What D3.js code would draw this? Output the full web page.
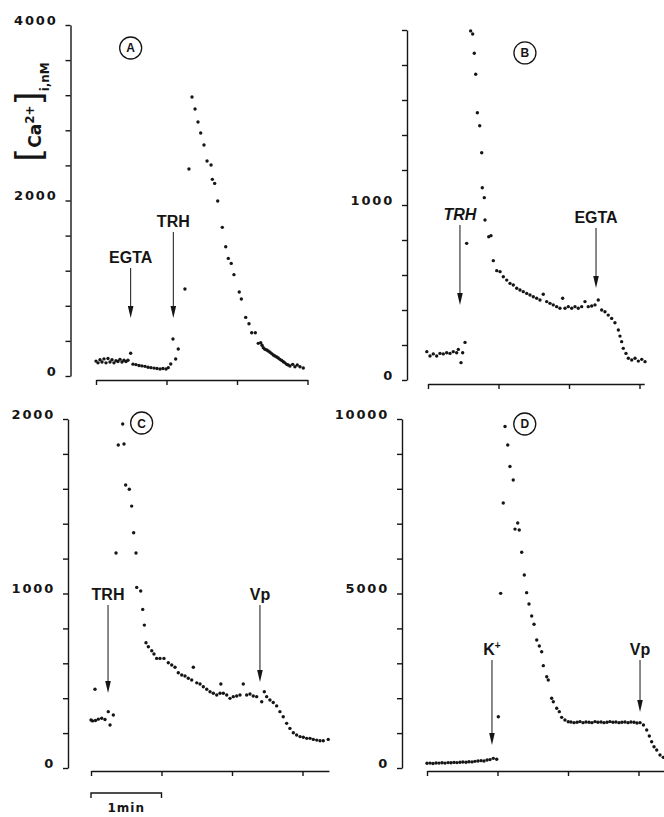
<!DOCTYPE html>
<html>
<head>
<meta charset="utf-8">
<script src="https://cdn.jsdelivr.net/npm/d3@7"></script>
<style>
  body{ margin:0; background:#fff; }
  .axis path, .axis line{ stroke:#151515; stroke-width:1.4; }
  .yaxis text{ font-family:"DejaVu Sans",sans-serif; font-weight:bold; font-size:13px; letter-spacing:1.8px; fill:#151515; }
  .note{ font-family:"Liberation Sans",Arial,sans-serif; font-weight:bold; font-size:16px; fill:#151515; }
  .letter{ font-family:"Liberation Sans",Arial,sans-serif; font-weight:bold; font-size:12px; fill:#151515; }
</style>
</head>
<body>
<script>
// time in s from the first x tick, [Ca2+]i in nM
var dataA = [[0,170],[1.7,150],[3.4,185],[5.1,160],[6.8,195],[8.5,150],[10.2,200],[11.9,160],[13.6,185],[15.3,150],
  [17,175],[18.7,165],[20.4,190],[22.1,160],[23.8,180],[25.5,165],[27.2,180],[29.5,259],[31.5,135],[34,130],
  [36.6,120],[39.1,115],[41.7,110],[44.3,100],[46.8,95],[49.4,90],[51.9,85],[54.5,80],[57,85],[59.6,80],
  [61.5,95],[63.6,137],[65.5,422],[67.8,194],[70,308],[75.7,991],[79.1,2359],[81.7,3179],[84.3,3043],[86.8,2895],
  [89.1,2769],[91.9,2632],[94.5,2450],[97.9,2405],[99,2241],[101,2195],[103.6,1994],[107.5,1694],[110.4,1473],[112.6,1340],
  [115.1,1283],[117.4,1155],[121.9,957],[123.7,877],[127.4,668],[130.2,596],[132.5,493],[135.6,493],[138.1,372],[140.2,380],
  [141.3,350],[142.4,322],[143.8,305],[145.3,296],[146.6,285],[148.1,270],[149.5,255],[150.9,239],[152.3,228],[153.8,217],
  [155.1,205],[156.6,190],[158,178],[159.4,163],[160.8,150],[162.3,133],[163.6,125],[165.1,114],[167.4,133],[169.3,106],
  [171.3,125],[173.6,106],[176.4,91]];

var dataB = [[-1,162],[1.7,137],[4.5,149],[7.4,137],[10.2,152],[13,149],[15.9,156],[18.7,152],[21.5,162],[24.4,156],
  [25.8,175],[28.1,99],[29.5,156],[31.5,215],[32.9,781],[36.3,1995],[38,1977],[39.4,1867],[40.6,1747],[42,1527],
  [44,1453],[45.7,1299],[46.2,1099],[47.9,1042],[48.5,914],[51.7,819],[53.6,825],[55.6,682],[58.5,625],[61.3,619],
  [64.1,590],[67,571],[69.8,552],[72.6,543],[75.5,524],[78.3,514],[81.1,505],[84,495],[86.8,486],[89.6,476],
  [92.5,467],[95.3,457],[98.1,490],[101,448],[103.8,438],[106.6,429],[109.5,419],[112.3,410],[114.6,467],[116.6,410],
  [119.4,419],[122.3,410],[125.1,419],[127.9,410],[130.8,419],[133.6,448],[136.4,419],[139.3,423],[142.1,429],[144.9,457],
  [147.8,400],[150.6,390],[153.4,371],[156.3,352],[159.1,327],[162,286],[163.4,251],[164.8,219],[166.2,181],[168.5,152],
  [170.5,124],[173.4,114],[176.2,124],[179,108],[181.9,118],[184.7,105]];

var dataC = [[0,275],[1.3,270],[3.4,451],[3.8,272],[6.2,280],[9.1,285],[11.9,278],[14.7,323],[16.2,246],[19,304],
  [21.3,1232],[23.2,1851],[27,1971],[28.1,1857],[29.5,1622],[32.6,1597],[34.6,1501],[36.3,1348],[38.3,1232],[38.9,1035],
  [42.3,1014],[44,909],[45.4,819],[46.8,718],[48.8,695],[51.7,672],[53.6,653],[55.9,628],[58.7,628],[62.1,628],
  [65.8,603],[68.7,590],[71.5,577],[74.3,546],[77.2,533],[80,527],[82.8,514],[85.7,504],[87.1,577],[90,488],
  [92.8,481],[95.6,466],[98.5,451],[101.3,437],[104.1,428],[107,418],[109.8,428],[110.5,481],[112.6,428],[115.5,418],
  [118.3,399],[121.1,409],[124,413],[126.8,418],[129.6,481],[132.5,418],[135.3,424],[138.1,413],[141,409],[145.3,380],
  [147.5,437],[149.5,409],[152.3,390],[155.1,375],[158,356],[160.8,323],[163.6,294],[166.5,256],[169.3,227],[172.2,202],
  [175,189],[177.9,180],[180.7,176],[183.6,170],[186.4,170],[189.2,164],[192.1,160],[194.9,156],[197.7,156],[201.9,164]];

var dataD = [[0,134],[2.6,140],[5.1,130],[7.7,145],[10.2,140],[12.8,150],[15.3,140],[17.9,155],[20.4,150],[23,160],
  [25.5,155],[28.1,165],[30.6,170],[33.2,165],[35.7,180],[38.3,175],[40.8,190],[43.4,200],[46,210],[48.5,200],
  [51.1,229],[53.6,240],[56.4,277],[59.3,249],[60.7,1470],[62.7,5005],[64.9,7593],[66.4,9785],[68.7,9255],[70.6,8639],
  [73.4,8252],[74.9,6845],[77.2,7020],[78.5,6820],[80.6,6181],[82.8,5530],[84.8,5024],[86.8,4699],[89.1,4355],[91.1,4117],
  [93.4,3668],[95.6,3496],[97.6,3333],[99,2932],[101.9,2616],[103.2,2521],[106.1,1997],[107.5,1900],[110.4,1711],[112.6,1614],
  [114.6,1452],[117.4,1375],[120.2,1327],[122.5,1320],[125.1,1300],[127.7,1310],[130.2,1330],[132.8,1300],[135.3,1320],[137.9,1310],
  [140.4,1300],[143,1330],[145.5,1310],[148.1,1320],[150.6,1300],[153.2,1310],[155.7,1330],[158.3,1310],[160.8,1320],[163.4,1300],
  [165.9,1310],[168.5,1320],[171.1,1300],[173.6,1320],[176.2,1310],[178.7,1290],[181.3,1300],[184.2,1232],[187,1089],[189.2,917],
  [191.2,754],[193.2,610],[195.5,516],[198.3,372],[201.1,305]];

var xTickSec = [0, 60, 120, 180];
var yTicksA = d3.range(0, 4001, 400), yLabelsA = [0, 2000, 4000];
var yTicksB = d3.range(0, 2001, 200), yLabelsB = [0, 1000];
var yTicksC = d3.range(0, 2001, 200), yLabelsC = [0, 1000, 2000];
var yTicksD = d3.range(0, 10001, 1000), yLabelsD = [0, 5000, 10000];

// arrows: label, time, value at arrow tip, value at arrow top
var notesA = [{label:"EGTA", t:29.5, tip:661, top:1231}, {label:"TRH", t:65.8, tip:661, top:1641}];
var notesB = [{label:"TRH", t:27.2, tip:429, top:886, italic:true}, {label:"EGTA", t:143, tip:526, top:869}];
var notesC = [{label:"TRH", t:14.5, tip:430, top:934}, {label:"Vp", t:143.8, tip:493, top:934}];
var notesD = [{label:"K", sup:"+", t:55.3, tip:659, top:3095}, {label:"Vp", t:181.3, tip:1605, top:3095}];

var pxPerMin = 70.5;
var svg = d3.select("body").append("svg").attr("width", 664).attr("height", 817);

function drawPanel(p) {
  var x = d3.scaleLinear().domain([0, p.xMax]).range([p.x0, p.x0 + p.xMax / 60 * pxPerMin]);
  var y = d3.scaleLinear().domain([0, p.yMax]).range([p.bottom, p.top]);
  var g = svg.append("g");

  g.append("g").attr("class", "axis").attr("transform", "translate(0," + p.xAxisY + ")")
    .call(d3.axisBottom(x).tickValues(xTickSec).tickSize(5).tickSizeOuter(0).tickFormat(""));

  g.append("g").attr("class", "axis yaxis").attr("transform", "translate(" + p.yAxisX + ",0)")
    .call(d3.axisLeft(y).tickValues(p.yTicks).tickSize(5).tickSizeOuter(0).tickPadding(8)
      .tickFormat(function(d) { return p.yLabels.indexOf(d) >= 0 ? d : ""; }))
    .selectAll("text").attr("dy", "-1");

  g.selectAll("circle.dot").data(p.data).enter().append("circle")
    .attr("class", "dot")
    .attr("cx", function(d) { return x(d[0]); })
    .attr("cy", function(d) { return y(d[1]); })
    .attr("r", 1.7)
    .attr("fill", "#151515");

  p.notes.forEach(function(n) {
    var ax = x(n.t), yTip = y(n.tip), yTop = y(n.top);
    g.append("line").attr("x1", ax).attr("x2", ax).attr("y1", yTop).attr("y2", yTip - 8)
      .attr("stroke", "#151515").attr("stroke-width", 1);
    g.append("path").attr("d", "M" + (ax - 2.8) + "," + (yTip - 12) + "L" + (ax + 2.8) + "," + (yTip - 12) + "L" + ax + "," + yTip + "Z")
      .attr("fill", "#151515");
    var tx = g.append("text").attr("class", "note").attr("x", ax).attr("y", yTop - 5)
      .attr("text-anchor", "middle").style("font-style", n.italic ? "italic" : "normal").text(n.label);
    if (n.sup) tx.append("tspan").attr("dy", -6).style("font-size", "10px").text(n.sup);
  });

  g.append("circle").attr("cx", x(p.letterAt[0])).attr("cy", y(p.letterAt[1])).attr("r", 11)
    .attr("fill", "none").attr("stroke", "#151515").attr("stroke-width", 1.3);
  g.append("text").attr("class", "letter").attr("x", x(p.letterAt[0])).attr("y", y(p.letterAt[1]) + 4.5)
    .attr("text-anchor", "middle").text(p.letter);

  return x;
}

drawPanel({data:dataA, notes:notesA, yTicks:yTicksA, yLabels:yLabelsA, yMax:4000, xMax:180,
  x0:96, yAxisX:70.5, bottom:376, top:25, xAxisY:380, letter:"A", letterAt:[29.5, 3738]});
drawPanel({data:dataB, notes:notesB, yTicks:yTicksB, yLabels:yLabelsB, yMax:2000, xMax:184,
  x0:428, yAxisX:407, bottom:380, top:30, xAxisY:384, letter:"B", letterAt:[82.5, 1869]});
var xC = drawPanel({data:dataC, notes:notesC, yTicks:yTicksC, yLabels:yLabelsC, yMax:2000, xMax:202.5,
  x0:91, yAxisX:68, bottom:768, top:419, xAxisY:771, letter:"C", letterAt:[43.1, 1977]});
drawPanel({data:dataD, notes:notesD, yTicks:yTicksD, yLabels:yLabelsD, yMax:10000, xMax:202,
  x0:427, yAxisX:402, bottom:768, top:419, xAxisY:771, letter:"D", letterAt:[83.2, 9857]});

// 1 min scale bar under panel C
svg.append("path")
  .attr("d", "M" + xC(0) + ",798V793H" + xC(60) + "V798")
  .attr("fill", "none").attr("stroke", "#151515").attr("stroke-width", 1.4);
svg.append("text").attr("x", xC(30)).attr("y", 812).attr("text-anchor", "middle")
  .style("font-family", "DejaVu Sans").style("font-weight", "bold").style("font-size", "12px")
  .style("letter-spacing", "1px").attr("fill", "#151515").text("1min");

// y axis title, rotated
var yt = svg.append("text").attr("transform", "translate(41,112) rotate(-90)")
  .attr("text-anchor", "middle").attr("fill", "#151515")
  .style("font-family", "DejaVu Sans").style("font-weight", "bold");
yt.append("tspan").style("font-size", "36px").style("font-weight", "normal").text("[");
yt.append("tspan").style("font-size", "17px").text("Ca");
yt.append("tspan").style("font-size", "12px").attr("dy", -7).text("2+");
yt.append("tspan").style("font-size", "36px").style("font-weight", "normal").attr("dy", 7).text("]");
yt.append("tspan").style("font-size", "12px").attr("dy", 8).text("i,nM");
</script>
</body>
</html>
